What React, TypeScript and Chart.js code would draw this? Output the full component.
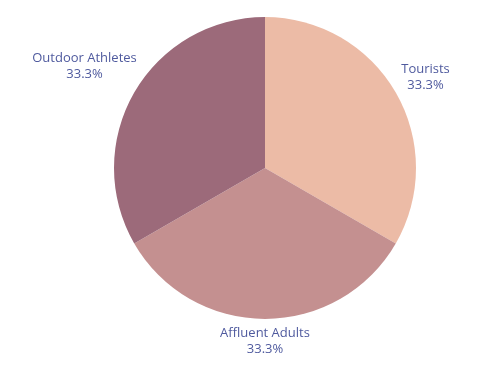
import React, { useEffect, useRef } from "react";
import { Chart, registerables } from "chart.js";

Chart.register(...registerables);

const categories = ["Tourists", "Affluent Adults", "Outdoor Athletes"];
const values = [1, 1, 1];
const colors = ["#ECBBA6", "#C49090", "#9C6A7A"];

const outsideLabels = {
  id: "outsideLabels",
  afterDatasetsDraw(chart: any) {
    const ctx = chart.ctx;
    const meta = chart.getDatasetMeta(0);
    const data = chart.data.datasets[0].data as number[];
    const total = data.reduce((a, b) => a + b, 0);
    ctx.save();
    ctx.font = "13px 'Open Sans'";
    ctx.fillStyle = "#4F5A9E";
    ctx.textBaseline = "middle";
    const lineH = 16;
    meta.data.forEach((arc: any, i: number) => {
      const { x, y, startAngle, endAngle, outerRadius } = arc.getProps(
        ["x", "y", "startAngle", "endAngle", "outerRadius"],
        true
      );
      const mid = (startAngle + endAngle) / 2;
      const dx = Math.cos(mid);
      const dy = Math.sin(mid);
      const px = x + dx * (outerRadius + 4);
      const py = y + dy * (outerRadius + 4);
      const lines = [chart.data.labels[i], ((data[i] / total) * 100).toFixed(1) + "%"];
      const w = Math.max(...lines.map((l: string) => ctx.measureText(l).width));
      const h = lines.length * lineH;
      let cx = px;
      if (dx > 0.1) cx = px + w / 2 + 2;
      else if (dx < -0.1) cx = px - w / 2 + 6;
      let top: number;
      if (dy > 0.1) top = py + 2;
      else top = py - h + 3 - (dx < 0 ? 11 : 0);
      ctx.textAlign = "center";
      lines.forEach((l: string, k: number) => {
        ctx.fillText(l, cx, top + lineH * k + lineH / 2);
      });
    });
    ctx.restore();
  },
};

export default function App() {
  const ref = useRef<HTMLCanvasElement>(null);
  useEffect(() => {
    const chart = new Chart(ref.current!, {
      type: "pie",
      data: {
        labels: categories,
        datasets: [
          {
            data: values,
            backgroundColor: colors,
            borderWidth: 0,
          },
        ],
      },
      options: {
        responsive: false,
        animation: false,
        layout: { padding: { left: 114, right: 76, top: 17, bottom: 55 } },
        plugins: {
          legend: { display: false },
          tooltip: { enabled: false },
        },
      },
      plugins: [outsideLabels],
    });
    return () => chart.destroy();
  }, []);
  return (
    <div style={{ position: "fixed", left: 0, top: 0, width: 492, height: 374, background: "#fff" }}>
      <canvas ref={ref} width={492} height={374} style={{ width: 492, height: 374 }} />
    </div>
  );
}
